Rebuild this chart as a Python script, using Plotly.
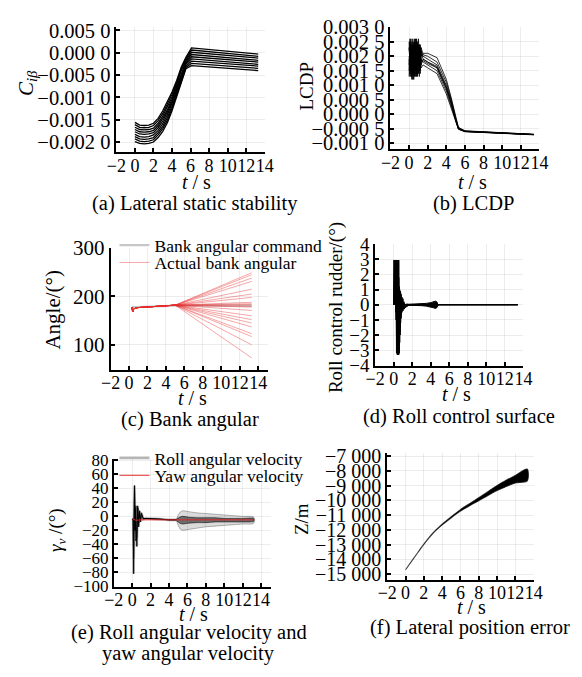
import plotly.graph_objects as go

W, H = 582, 677
SERIF = "Liberation Serif"

X_TICKS = [-2, 0, 2, 4, 6, 8, 10, 12, 14]
X_LABELS = ["−2", "0", "2", "4", "6", "8", "10", "12", "14"]

# ---------------- (a) Lateral static stability ----------------
T_A = [0, 0.5, 1, 1.5, 2, 2.5, 3, 3.5, 4, 4.5, 5, 5.5, 6.1, 13.3]
A1 = [-0.00156, -0.00162, -0.00163, -0.00162, -0.00158, -0.00147, -0.0013, -0.0011, -0.00088, -0.00062, -0.00032, -0.0001, 0.00011, -0.00003]
A2 = [-0.00161, -0.00167, -0.00168, -0.00167, -0.00163, -0.00152, -0.00136, -0.00116, -0.00093, -0.00067, -0.00036, -0.00013, 0.00006, -0.00008]
A3 = [-0.00167, -0.00172, -0.00173, -0.00172, -0.00169, -0.00158, -0.00142, -0.00122, -0.00099, -0.00071, -0.0004, -0.00017, 0.00001, -0.00012]
A4 = [-0.00172, -0.00177, -0.00178, -0.00177, -0.00174, -0.00163, -0.00147, -0.00128, -0.00104, -0.00076, -0.00044, -0.0002, -0.00004, -0.00017]
A5 = [-0.00177, -0.00182, -0.00183, -0.00182, -0.00179, -0.00168, -0.00153, -0.00133, -0.00109, -0.0008, -0.00049, -0.00023, -0.00009, -0.00021]
A6 = [-0.00183, -0.00188, -0.00189, -0.00188, -0.00184, -0.00174, -0.00159, -0.00139, -0.00114, -0.00085, -0.00053, -0.00026, -0.00014, -0.00026]
A7 = [-0.00188, -0.00193, -0.00194, -0.00193, -0.0019, -0.00179, -0.00165, -0.00145, -0.0012, -0.00089, -0.00057, -0.0003, -0.00019, -0.0003]
A8 = [-0.00193, -0.00198, -0.00199, -0.00198, -0.00195, -0.00184, -0.0017, -0.00151, -0.00125, -0.00094, -0.00061, -0.00033, -0.00024, -0.00035]
A9 = [-0.00199, -0.00203, -0.00204, -0.00203, -0.002, -0.0019, -0.00176, -0.00157, -0.0013, -0.00098, -0.00065, -0.00036, -0.00029, -0.0004]
A_LINES = [A1, A2, A3, A4, A5, A6, A7, A8, A9]
A_YTICKS = [0.0005, 0, -0.0005, -0.001, -0.0015, -0.002]
A_YLABELS = ["0.005 0", "0.000 0", "−0.005 0", "−0.001 0", "−0.001 5", "−0.002 0"]

# ---------------- (b) LCDP ----------------
T_B = [0, 0.1, 0.2, 0.3, 0.4, 0.5, 0.6, 0.7, 0.8, 0.9, 1.0, 1.1, 1.2, 1.3,
       1.5, 2, 3, 4, 4.5, 5, 5.3, 6, 13.4]
B1 = [0.0025, 0.0014, 0.0023, 0.0016, 0.0026, 0.0013, 0.0022, 0.0017, 0.0025, 0.0015, 0.0021, 0.0018, 0.0024, 0.0020,
      0.0021, 0.0021, 0.00195, 0.0012, 0.0006, -0.0001, -0.00045, -0.00057, -0.00069]
B2 = [0.0013, 0.0024, 0.0015, 0.0025, 0.0012, 0.0023, 0.0016, 0.0024, 0.0014, 0.0022, 0.0017, 0.0024, 0.0016, 0.0021,
      0.0020, 0.0019, 0.0017, 0.0010, 0.0005, -0.00015, -0.00048, -0.00058, -0.0007]
B3 = [0.0020, 0.0016, 0.0026, 0.0013, 0.0021, 0.0025, 0.0014, 0.0020, 0.0023, 0.0013, 0.0024, 0.0016, 0.0022, 0.0017,
      0.0019, 0.0018, 0.0016, 0.0009, 0.0004, -0.0002, -0.0005, -0.00059, -0.0007]
B4 = [0.0017, 0.0022, 0.0013, 0.0024, 0.0018, 0.0015, 0.0025, 0.0013, 0.0019, 0.0025, 0.0014, 0.0022, 0.0015, 0.0019,
      0.0018, 0.0017, 0.0015, 0.0008, 0.0003, -0.00025, -0.0005, -0.0006, -0.00071]
B5 = [0.0023, 0.0018, 0.0020, 0.0014, 0.0024, 0.0019, 0.0013, 0.0026, 0.0016, 0.0020, 0.0023, 0.0015, 0.0021, 0.0016,
      0.0017, 0.0016, 0.0014, 0.0007, 0.0002, -0.0003, -0.00052, -0.0006, -0.0007]
B6 = [0.0015, 0.0026, 0.0017, 0.0021, 0.0014, 0.0024, 0.0020, 0.0015, 0.0026, 0.0018, 0.0016, 0.0024, 0.0019, 0.0022,
      0.0019, 0.0018, 0.00165, 0.00095, 0.00045, -0.0002, -0.0005, -0.00059, -0.0007]
B7 = [0.0019, 0.0013, 0.0024, 0.0018, 0.0022, 0.0012, 0.0024, 0.0021, 0.0013, 0.0024, 0.0019, 0.0013, 0.0023, 0.0018,
      0.00185, 0.00175, 0.0016, 0.00088, 0.00038, -0.00022, -0.0005, -0.00059, -0.0007]
B8 = [0.0022, 0.0025, 0.0016, 0.0012, 0.0020, 0.0017, 0.0026, 0.0018, 0.0021, 0.0014, 0.0026, 0.0020, 0.0014, 0.0023,
      0.00205, 0.0020, 0.0018, 0.0011, 0.00055, -0.00012, -0.00046, -0.00058, -0.00069]
B_LINES = [B1, B2, B3, B4, B5, B6, B7, B8]
B_YTICKS = [0.003, 0.0025, 0.002, 0.0015, 0.001, 0.0005, 0, -0.0005, -0.001]
B_YLABELS = ["0.003 0", "0.002 5", "0.002 0", "0.001 5", "0.001 0", "0.000 5", "0.000 0", "−0.000 5", "−0.001 0"]

# ---------------- (c) Bank angular ----------------
T_CMD = [0.3, 1, 5.0, 13.3]
CMD = [178, 178, 181, 181]
T_C = [0.3, 0.4, 0.5, 0.7, 1, 2, 3, 4, 5.0, 13.3]
C_EARLY = [178, 168, 174, 176, 177, 178, 179, 180, 182]
C_END = [249, 245, 238, 231, 215, 205, 198, 188, 185, 183, 180, 178, 171, 160, 152, 145, 137, 123, 117, 100, 73]
C_YTICKS = [100, 200, 300]

# ---------------- (d) Roll control surface ----------------
T_D = [0, 0.05, 0.1, 0.15, 0.2, 0.25, 0.3, 0.35, 0.4, 0.45, 0.5, 0.55, 0.6, 0.65, 0.7, 0.75, 0.8,
       0.9, 1.0, 1.1, 1.2, 1.4, 1.7, 13.4]
D1 = [0, 2.95, 0.3, 2.95, 0.2, 2.95, -3.2, 2.95, -3.3, 2.95, -3.3, 2.95, -3.1, 1.0, -2.0, 0.8, -0.9,
      0.5, -0.3, 0.2, -0.2, 0.05, 0, 0]
D2 = [0, 2.95, 0, 2.95, -0.5, 2.95, -2.0, 2.95, -3.3, 2.95, -3.3, 1.8, -3.2, 0.9, -1.5, 0.6, -0.6,
      0.3, -0.4, 0.15, -0.1, -0.1, 0, 0]
D3 = [0, 1.5, 2.95, 0.1, 2.95, -1.0, 2.95, -3.2, 2.95, -3.3, 2.0, -3.3, 1.2, -2.5, 0.9, -1.2, 0.7,
      -0.5, 0.4, -0.3, -0.2, -0.1, 0, 0]
D4 = [0, 0.5, 2.95, 0.3, 2.95, -0.2, 2.95, -2.6, 2.95, -3.1, 2.95, -3.2, 0.8, -1.8, 0.9, -0.8, 0.5,
      -0.3, 0.2, -0.25, -0.15, -0.05, 0, 0]
D_LINES = [D1, D2, D3, D4]
T_SP = [1.1, 2, 3, 3.5, 4, 4.3, 4.5, 4.65, 4.8]
SP_UP = [0.02, 0.03, 0.06, 0.09, 0.14, 0.2, 0.24, 0.2, 0.02]
SP_LO = [-0.02, -0.03, -0.06, -0.09, -0.14, -0.2, -0.24, -0.2, -0.02]
D_YTICKS = [4, 3, 2, 1, 0, -1, -2, -3, -4]
D_YLABELS = ["4", "3", "2", "1", "0", "−1", "−2", "−3", "−4"]

# ---------------- (e) Roll / yaw angular velocity ----------------
T_E = [0.05, 0.1, 0.15, 0.2, 0.25, 0.3, 0.35, 0.4, 0.5, 0.6, 0.7, 0.8, 0.9, 1.0, 1.2, 1.5, 2, 3, 4, 4.8]
E1 = [-5, -3, -82, -10, 44, 5, -20, 15, -43, 12, -15, 8, -8, 5, -4, -3, -3, -4, -5, -5]
E2 = [-5, -4, -60, 30, 40, -20, 10, -35, -30, 15, -10, 6, -6, 3, -3, -3, -3, -4, -5, -5]
T_EB = [4.8, 5.2, 5.5, 6, 7, 8, 9, 10, 11, 12, 13.2]
EB_UP = [-4, 6, 8, 7, 5, 4, 3, 2, 1, 0, -1]
EB_LO = [-6, -18, -20, -19, -17, -15, -14, -13, -12, -11, -10]
EB_UP2 = [-4, -1, 0, -1, -2, -2, -2, -3, -3, -3, -3]
EB_LO2 = [-6, -10, -11, -10, -9, -9, -8, -8, -8, -8, -7]
T_YAW = [0.05, 0.1, 0.2, 0.4, 0.8, 1.5, 13.2]
YAW = [-5, -5, -4, -6, -5, -5, -5]
E_YTICKS = [80, 60, 40, 20, 0, -20, -40, -60, -80, -100]
E_YLABELS = ["80", "60", "40", "20", "0", "−20", "−40", "−60", "−80", "−100"]

# ---------------- (f) Lateral position error ----------------
T_F = [0, 1, 2, 3, 4, 5, 6, 7, 8, 9, 10, 11, 12, 13.3]
F_UP = [-14700, -13830, -12960, -12205, -11615, -11105, -10630, -10220, -9820, -9410, -9000, -8640, -8310, -7880]
F_LO = [-14700, -13830, -12980, -12235, -11665, -11175, -10730, -10360, -10020, -9670, -9340, -9060, -8830, -8680]
F_YTICKS = [-7000, -8000, -9000, -10000, -11000, -12000, -13000, -14000, -15000]
F_YLABELS = ["−7 000", "−8 000", "−9 000", "−10 000", "−11 000", "−12 000", "−13 000", "−14 000", "−15 000"]

fig = go.Figure()


def axnames(i):
    return ("x", "y") if i == 1 else ("x%d" % i, "y%d" % i)


def add_line(i, x, y, color, width, name=None, legend=None, show=False, shape="linear"):
    xa, ya = axnames(i)
    fig.add_trace(go.Scatter(x=x, y=y, mode="lines", xaxis=xa, yaxis=ya,
                             line=dict(color=color, width=width, shape=shape),
                             name=name, showlegend=show, legend=legend, hoverinfo="skip"))


def add_band(i, x, up, lo, fillcolor, linecolor, width, shape="linear"):
    xa, ya = axnames(i)
    fig.add_trace(go.Scatter(x=list(x) + list(x)[::-1], y=list(up) + list(lo)[::-1],
                             mode="lines", fill="toself", fillcolor=fillcolor,
                             line=dict(color=linecolor, width=width, shape=shape, smoothing=0.8),
                             xaxis=xa, yaxis=ya, showlegend=False, hoverinfo="skip"))


# (a)
for ys in A_LINES:
    add_line(1, T_A, ys, "black", 1.3)
# (b)
for ys in B_LINES:
    add_line(2, T_B, ys, "rgba(0,0,0,0.8)", 1.0)
# (c)
add_line(3, T_CMD, CMD, "rgba(0,0,0,0.22)", 2.2, name="Bank angular command", legend="legend", show=True)
for k, end in enumerate(C_END):
    add_line(3, T_C, C_EARLY + [end], "rgba(230,45,45,0.42)", 1.0,
             name="Actual bank angular", legend="legend2", show=(k == 0))
# (d)
for ys in D_LINES:
    add_line(4, T_D, ys, "black", 1.0)
add_band(4, T_SP, SP_UP, SP_LO, "black", "black", 1.0)
# (e)
add_band(5, T_EB, EB_UP, EB_LO, "rgba(0,0,0,0.14)", "rgba(0,0,0,0.28)", 1.0, shape="spline")
add_band(5, T_EB, EB_UP2, EB_LO2, "rgba(0,0,0,0.5)", "rgba(0,0,0,0.55)", 1.0, shape="spline")
add_line(5, T_E, E1, "rgba(70,70,70,0.4)", 2.6, name="Roll angular velocity", legend="legend3", show=True)
add_line(5, T_E, E2, "black", 1.0)
add_line(5, T_E, E1, "black", 0.8)
add_line(5, T_YAW, YAW, "rgba(230,30,30,0.9)", 1.0, name="Yaw angular velocity", legend="legend4", show=True)
# (f)
add_band(6, T_F, F_UP, F_LO, "black", "rgba(0,0,0,0.75)", 1.1, shape="spline")

# ---------------- axes ----------------
PANELS = [
    # (xpx0, xpx1, ypx_top, ypx_bottom, xrange, yrange, yticks, ylabels, ytick font size)
    (110, 263.3, 15, 145, [-2, 14], [-0.00223, 0.000587], A_YTICKS, A_YLABELS, 20.5),
    (393.3, 547.3, 15.7, 141.7, [-2, 14], [-0.0012, 0.003], B_YTICKS, B_YLABELS, 20.5),
    (104, 267, 244, 370, [-2, 15.1], [48, 300], C_YTICKS, [str(v) for v in C_YTICKS], 21),
    (377.5, 530.7, 240, 365.5, [-2, 14], [-4.02, 4], D_YTICKS, D_YLABELS, 19),
    (107.3, 270, 462, 594, [-2, 15.1], [-100.6, 82], E_YTICKS, E_YLABELS, 17),
    (390, 541.3, 456, 587, [-2, 14], [-15393, -6803], F_YTICKS, F_YLABELS, 20),
]

GRID = "rgba(0,0,0,0.07)"
layout_axes = {}
for i, (x0, x1, yt, yb, xr, yr, yt_vals, yt_text, yfs) in enumerate(PANELS, start=1):
    xa, ya = axnames(i)
    xk = "xaxis" if i == 1 else "xaxis%d" % i
    yk = "yaxis" if i == 1 else "yaxis%d" % i
    common = dict(showline=True, linecolor="black", linewidth=1.8, ticks="inside", ticklen=4,
                  tickwidth=1.5, tickcolor="black", showgrid=True, gridcolor=GRID, gridwidth=1,
                  zeroline=False, tickangle=0, fixedrange=True)
    layout_axes[xk] = dict(domain=[x0 / W, x1 / W], anchor=ya, range=xr, tickmode="array",
                           tickvals=X_TICKS, ticktext=X_LABELS, ticklabelstandoff=-4,
                           tickfont=dict(family=SERIF, size=18, color="black"), **common)
    layout_axes[yk] = dict(domain=[1 - yb / H, 1 - yt / H], anchor=xa, range=yr, tickmode="array",
                           tickvals=yt_vals, ticktext=yt_text,
                           tickfont=dict(family=SERIF, size=yfs, color="black"), **common)

# ---------------- annotations ----------------
def ann(text, x, y, size, angle=0):
    return dict(text=text, x=x / W, y=1 - y / H, xref="paper", yref="paper", showarrow=False,
                xanchor="center", yanchor="middle", textangle=angle,
                font=dict(family=SERIF, size=size, color="black"))


annotations = [
    ann("<i>t</i> / s", 193, 176, 20),
    ann("(a) Lateral static stability", 191, 198, 20.5),
    ann("<i>t</i> / s", 478, 176, 20),
    ann("(b) LCDP", 479, 198, 20.5),
    ann("<i>t</i> / s", 189, 399, 20),
    ann("(c) Bank angular", 186, 421, 20.5),
    ann("<i>t</i> / s", 462, 395, 20),
    ann("(d) Roll control surface", 464, 418, 20.5),
    ann("<i>t</i> / s", 190, 622, 20),
    ann("(e) Roll angular velocity and", 185, 641, 20.5),
    ann("yaw angular velocity", 185, 663, 20.5),
    ann("<i>t</i> / s", 477, 615, 20),
    ann("(f) Lateral position error", 476, 636, 20.5),
    ann("<i>C</i><sub><i>iβ</i></sub>", 17, 73, 21, -90),
    ann("LCDP", 306, 77, 19, -90),
    ann("Angle/(°)", 44, 308, 21, -90),
    ann("Roll control rudder/(°)", 337, 305, 19, -90),
    ann("<i>γ</i><sub><i>v</i></sub> /(°)", 48, 535, 19, -90),
    ann("Z/m", 302, 524, 19, -90),
]


def leg(x, y):
    return dict(x=x / W, y=1 - y / H, xanchor="left", yanchor="middle", bgcolor="rgba(0,0,0,0)",
                borderwidth=0, font=dict(family=SERIF, size=17.5, color="black"), itemwidth=30)


fig.update_layout(
    width=W, height=H, margin=dict(l=0, r=0, t=0, b=0),
    paper_bgcolor="white", plot_bgcolor="white", showlegend=True,
    annotations=annotations,
    legend=leg(108, 241), legend2=leg(108, 259),
    legend3=leg(108, 461), legend4=leg(108, 479),
    **layout_axes,
)

fig.write_html("out.html")
